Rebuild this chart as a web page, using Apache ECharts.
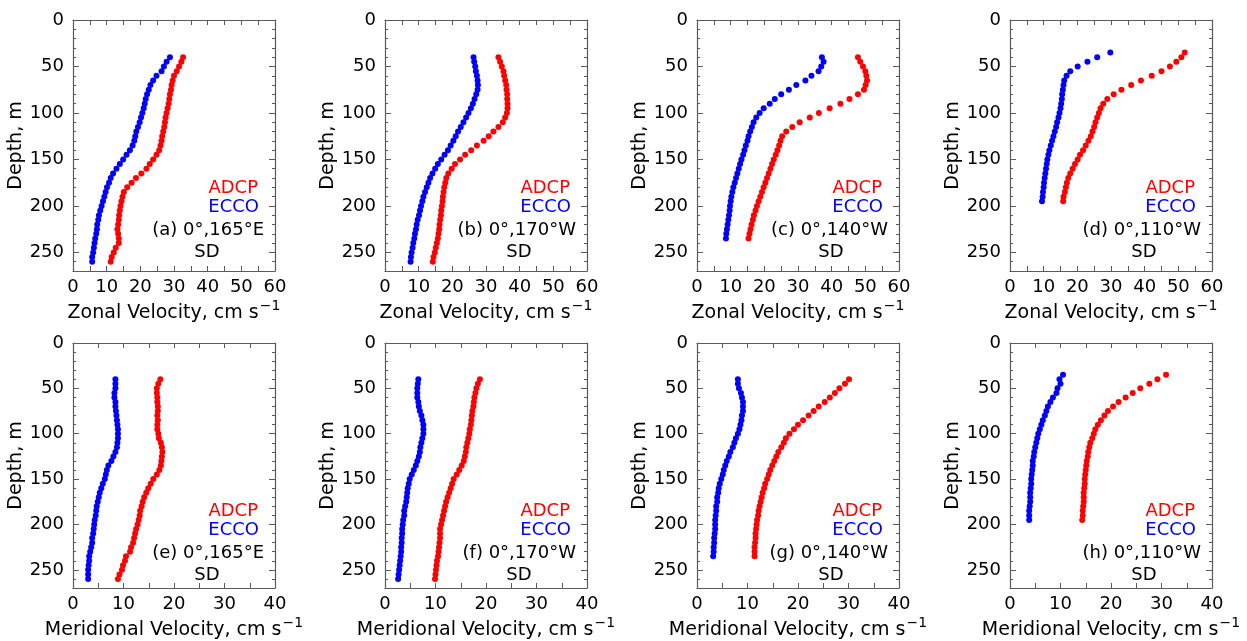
<!DOCTYPE html>
<html>
<head>
<meta charset="utf-8">
<script src="https://cdn.jsdelivr.net/npm/echarts@6/dist/echarts.min.js"></script>
<style>
html, body { margin: 0; padding: 0; background: #fff; }
#main { width: 1247px; height: 641px; }
</style>
</head>
<body>
<div id="main"></div>
<script>
// depth levels (m)
var depth40to260 = [40,45,50,55,60,65,70,75,80,85,90,95,100,105,110,115,120,125,130,135,140,145,150,155,160,165,170,175,180,185,190,195,200,205,210,215,220,225,230,235,240,245,250,255,260];
var depth40to235 = [40,45,50,55,60,65,70,75,80,85,90,95,100,105,110,115,120,125,130,135,140,145,150,155,160,165,170,175,180,185,190,195,200,205,210,215,220,225,230,235];
var depth35to195 = [35,40,45,50,55,60,65,70,75,80,85,90,95,100,105,110,115,120,125,130,135,140,145,150,155,160,165,170,175,180,185,190,195];

// zonal velocity SD, cm/s
var adcpA = [32.7,32.2,31.5,30.8,30,29.6,29.3,29.1,28.8,28.6,28.4,28.1,27.8,27.5,27.3,27.1,26.8,26.5,26.3,26,25.6,24.8,23.8,22.8,21.8,20.3,18.7,17.4,16.1,15.1,14.7,14.4,14.1,13.9,13.7,13.6,13.4,13.2,13.4,13.6,13.6,12.7,12.1,11.5,11.2];
var eccoA = [28.8,27.8,27,26.3,24.8,23.8,23,22.5,22,21.6,21.3,21,20.6,20.2,19.8,19.3,18.8,18.5,18.2,17.7,16.9,15.9,14.9,13.9,12.9,11.9,11.2,10.7,10.1,9.7,9.3,8.9,8.5,8.1,7.7,7.5,7.2,7.1,6.9,6.6,6.4,6.2,6,5.7,5.7];
var adcpB = [33.7,34.2,34.7,35.2,35.4,35.7,36,36.1,36.3,36.3,36.4,36.4,36.2,35.7,35,33.7,32.2,30.8,29.3,27.3,25.6,23.8,22.3,20.8,19.8,18.8,18.2,17.9,17.6,17.4,17.2,17.1,16.9,16.7,16.6,16.4,16.2,16.1,15.9,15.7,15.4,15.1,14.8,14.4,14.2];
var eccoB = [26.3,26.5,26.8,27,27.3,27.5,27.6,27.5,27.1,26.6,26.1,25.5,24.8,24.1,23.3,22.5,21.7,21,20.3,19.5,18.7,17.7,16.7,15.7,14.9,14.1,13.4,12.9,12.4,11.9,11.4,11.1,10.7,10.4,10.1,9.7,9.4,9.2,8.9,8.7,8.4,8.2,7.9,7.7,7.6];
var adcpC = [47.8,48.5,49.3,50,50.3,50.5,50.1,49.6,47.8,45.3,42.6,39.4,36.2,33.5,30.5,28.3,26.5,25.3,24.8,24.4,23.9,23.4,22.8,22.3,21.8,21.3,20.8,20.3,19.8,19.3,18.8,18.3,17.8,17.4,16.9,16.6,16.2,15.9,15.6,15.3];
var eccoC = [37.1,37.6,36.9,36.1,34,32.2,29.5,27.3,25,23.1,21.6,19.8,18.6,17.6,16.8,16.3,15.8,15.3,15,14.5,14.1,13.7,13.2,12.8,12.4,12,11.6,11.2,10.8,10.5,10.2,10,9.8,9.7,9.5,9.3,9.1,8.9,8.7,8.6];
var adcpD = [51.9,50.9,49.4,47.5,45,42.1,38.9,36,33.1,30.8,28.9,27.7,26.9,26.4,25.9,25.4,25,24.5,24,23.3,22.5,21.7,20.8,20.1,19.3,18.6,17.9,17.3,16.9,16.6,16.3,15.9,15.8];
var eccoD = [29.8,25.9,23,20.1,17.9,16.8,16.1,15.9,15.7,15.5,15.4,15.2,15,14.7,14.4,14,13.7,13.3,12.9,12.5,12.1,11.7,11.4,11.1,10.9,10.7,10.5,10.3,10.1,10,9.8,9.7,9.5];

// meridional velocity SD, cm/s
var adcpE = [17.3,16.9,16.6,16.6,16.7,16.7,16.8,16.8,16.7,16.8,16.7,16.7,16.9,17,17.4,17.6,17.7,17.6,17.5,17.4,17.1,16.6,15.9,15.4,14.9,14.5,14.1,13.8,13.6,13.3,13.2,13,12.8,12.5,12.3,12.1,11.9,11.5,11.3,10.5,10.3,9.9,9.7,9.2,8.9];
var eccoE = [8.4,8.4,8.4,8.2,8.2,8.4,8.4,8.5,8.6,8.7,8.8,8.9,8.9,8.9,8.8,8.7,8.4,8,7.6,7,6.7,6.5,6.3,5.9,5.6,5.3,5.1,4.9,4.7,4.6,4.5,4.3,4.2,4.1,4,3.8,3.8,3.6,3.4,3.2,3.2,3.1,3,3,3];
var adcpF = [18.8,18.4,18.1,17.9,17.7,17.6,17.5,17.3,17.2,17.1,17,16.8,16.7,16.5,16.3,16.1,16,15.8,15.6,15.2,14.7,14.2,13.6,13.3,13,12.7,12.4,12.1,11.9,11.7,11.5,11.3,11.1,10.9,10.9,10.9,10.8,10.7,10.6,10.5,10.3,10.2,10.1,10,9.9];
var eccoF = [6.6,6.5,6.4,6.4,6.4,6.6,6.7,6.9,7.2,7.4,7.6,7.6,7.6,7.4,7.2,7,6.9,6.7,6.4,6.1,5.7,5.3,4.9,4.7,4.5,4.4,4.3,4.2,4,3.8,3.8,3.6,3.5,3.4,3.4,3.3,3.3,3.2,3.2,3.1,3,2.9,2.8,2.7,2.6];
var adcpG = [30.1,29.3,28.2,27.3,26.3,25.3,24.1,23.1,22.1,21,20,19.2,18.3,17.6,17.2,16.7,16.1,15.7,15.3,14.9,14.5,14.2,13.9,13.5,13.3,13,12.8,12.6,12.4,12.2,12.1,11.9,11.8,11.7,11.6,11.6,11.5,11.4,11.4,11.4];
var eccoG = [8.1,8.1,8.3,8.7,8.9,9.1,9.1,9.1,8.9,8.8,8.6,8.4,8.1,7.7,7.4,7.1,6.6,6.3,5.9,5.6,5.3,5.1,4.8,4.5,4.3,4.2,4,4,3.8,3.8,3.7,3.6,3.6,3.6,3.5,3.4,3.4,3.3,3.3,3.2];
var adcpH = [30.9,29.2,27.6,25.8,24.3,22.9,21.5,20.4,19.4,18.7,18,17.4,16.9,16.6,16.3,15.9,15.7,15.5,15.4,15.2,15.1,15,14.9,14.8,14.8,14.7,14.6,14.6,14.6,14.5,14.4,14.4,14.3];
var eccoH = [10.5,9.8,10,9.4,9.2,8.5,8,7.5,7.2,6.9,6.5,6.2,5.9,5.6,5.4,5.2,5,4.8,4.7,4.5,4.5,4.4,4.3,4.2,4.2,4.1,4,4,4,3.9,3.8,3.8,3.8];

var panelLabels = ['(a) 0°,165°E','(b) 0°,170°W','(c) 0°,140°W','(d) 0°,110°W','(e) 0°,165°E','(f) 0°,170°W','(g) 0°,140°W','(h) 0°,110°W'];

var FONT = 'DejaVu Sans';
var FRAME = '#5a5a5a';

var panels = [
	{ depth: depth40to260, adcp: adcpA, ecco: eccoA, xmax: 60, name: 'Zonal Velocity, cm s' },
	{ depth: depth40to260, adcp: adcpB, ecco: eccoB, xmax: 60, name: 'Zonal Velocity, cm s' },
	{ depth: depth40to235, adcp: adcpC, ecco: eccoC, xmax: 60, name: 'Zonal Velocity, cm s' },
	{ depth: depth35to195, adcp: adcpD, ecco: eccoD, xmax: 60, name: 'Zonal Velocity, cm s' },
	{ depth: depth40to260, adcp: adcpE, ecco: eccoE, xmax: 40, name: 'Meridional Velocity, cm s' },
	{ depth: depth40to260, adcp: adcpF, ecco: eccoF, xmax: 40, name: 'Meridional Velocity, cm s' },
	{ depth: depth40to235, adcp: adcpG, ecco: eccoG, xmax: 40, name: 'Meridional Velocity, cm s' },
	{ depth: depth35to195, adcp: adcpH, ecco: eccoH, xmax: 40, name: 'Meridional Velocity, cm s' }
];

var lefts = [73, 385, 697, 1010];
var tops = [20, 343];
var W = 202, H = 251;

var grids = [], xAxes = [], yAxes = [], series = [], texts = [];

function pairs(vals, depth) {
	return depth.map(function(d, i) { return [vals[i], d]; });
}

function frameLine() {
	return { onZero: false, lineStyle: { color: FRAME, width: 1.2 } };
}

for (var i = 0; i < panels.length; i++) {
	var p = panels[i];
	var L = lefts[i % 4], T = tops[Math.floor(i / 4)];
	grids.push({ left: L, top: T, width: W, height: H });

	// bottom axis with labels, top axis only for mirrored ticks
	xAxes.push({
		gridIndex: i, type: 'value', position: 'bottom', min: 0, max: p.xmax, interval: 10,
		axisLine: frameLine(),
		axisTick: { inside: true, length: 5, lineStyle: { color: FRAME } },
		minorTick: { show: true, splitNumber: 2, length: 5, lineStyle: { color: FRAME } },
		splitLine: { show: false },
		axisLabel: { color: '#000', fontSize: 18, fontFamily: FONT, margin: 7 },
		name: '{n|' + p.name + '}{s|−1}', nameLocation: 'middle', nameGap: 28,
		nameTextStyle: {
			rich: {
				n: { fontSize: 19, fontFamily: FONT, color: '#000', lineHeight: 24, verticalAlign: 'bottom' },
				s: { fontSize: 14, fontFamily: FONT, color: '#000', lineHeight: 24, verticalAlign: 'top', padding: [0, 0, 0, 1] }
			}
		}
	});
	xAxes.push({
		gridIndex: i, type: 'value', position: 'top', min: 0, max: p.xmax, interval: 10,
		axisLine: frameLine(),
		axisTick: { inside: true, length: 5, lineStyle: { color: FRAME } },
		minorTick: { show: true, splitNumber: 2, length: 5, lineStyle: { color: FRAME } },
		splitLine: { show: false },
		axisLabel: { show: false }
	});
	yAxes.push({
		gridIndex: i, type: 'value', position: 'left', inverse: true, min: 0, max: 270, interval: 50,
		axisLine: frameLine(),
		axisTick: { inside: true, length: 6, lineStyle: { color: FRAME } },
		minorTick: { show: true, splitNumber: 5, length: 3, lineStyle: { color: FRAME } },
		splitLine: { show: false },
		axisLabel: { color: '#000', fontSize: 18, fontFamily: FONT, margin: 9, showMaxLabel: false,
			formatter: function(v) { return v % 50 === 0 ? v : ''; } },
		name: 'Depth, m', nameLocation: 'middle', nameGap: 35, nameRotate: 90,
		nameTextStyle: { color: '#000', fontSize: 19, fontFamily: FONT }
	});
	yAxes.push({
		gridIndex: i, type: 'value', position: 'right', inverse: true, min: 0, max: 270, interval: 50,
		axisLine: frameLine(),
		axisTick: { inside: true, length: 6, lineStyle: { color: FRAME } },
		minorTick: { show: true, splitNumber: 5, length: 3, lineStyle: { color: FRAME } },
		splitLine: { show: false },
		axisLabel: { show: false }
	});

	series.push({
		type: 'scatter', xAxisIndex: 2 * i, yAxisIndex: 2 * i, symbolSize: 6,
		itemStyle: { color: '#ff0000', opacity: 1 }, data: pairs(p.adcp, p.depth), silent: true
	});
	series.push({
		type: 'scatter', xAxisIndex: 2 * i, yAxisIndex: 2 * i, symbolSize: 6,
		itemStyle: { color: '#0000ff', opacity: 1 }, data: pairs(p.ecco, p.depth), silent: true
	});

	texts.push({ type: 'text', x: L + 185, y: T + 168, style: { text: 'ADCP', fill: '#ff0000', fontSize: 18, fontFamily: FONT, align: 'right', verticalAlign: 'middle' } });
	texts.push({ type: 'text', x: L + 186, y: T + 187, style: { text: 'ECCO', fill: '#0000ff', fontSize: 18, fontFamily: FONT, align: 'right', verticalAlign: 'middle' } });
	texts.push({ type: 'text', x: L + 191, y: T + 210, style: { text: panelLabels[i], fill: '#000', fontSize: 18, fontFamily: FONT, align: 'right', verticalAlign: 'middle' } });
	texts.push({ type: 'text', x: L + 134, y: T + 232, style: { text: 'SD', fill: '#000', fontSize: 18, fontFamily: FONT, align: 'center', verticalAlign: 'middle' } });
}

var chart = echarts.init(document.getElementById('main'));
chart.setOption({
	animation: false,
	backgroundColor: '#fff',
	grid: grids,
	xAxis: xAxes,
	yAxis: yAxes,
	series: series,
	graphic: texts
});
</script>
</body>
</html>
